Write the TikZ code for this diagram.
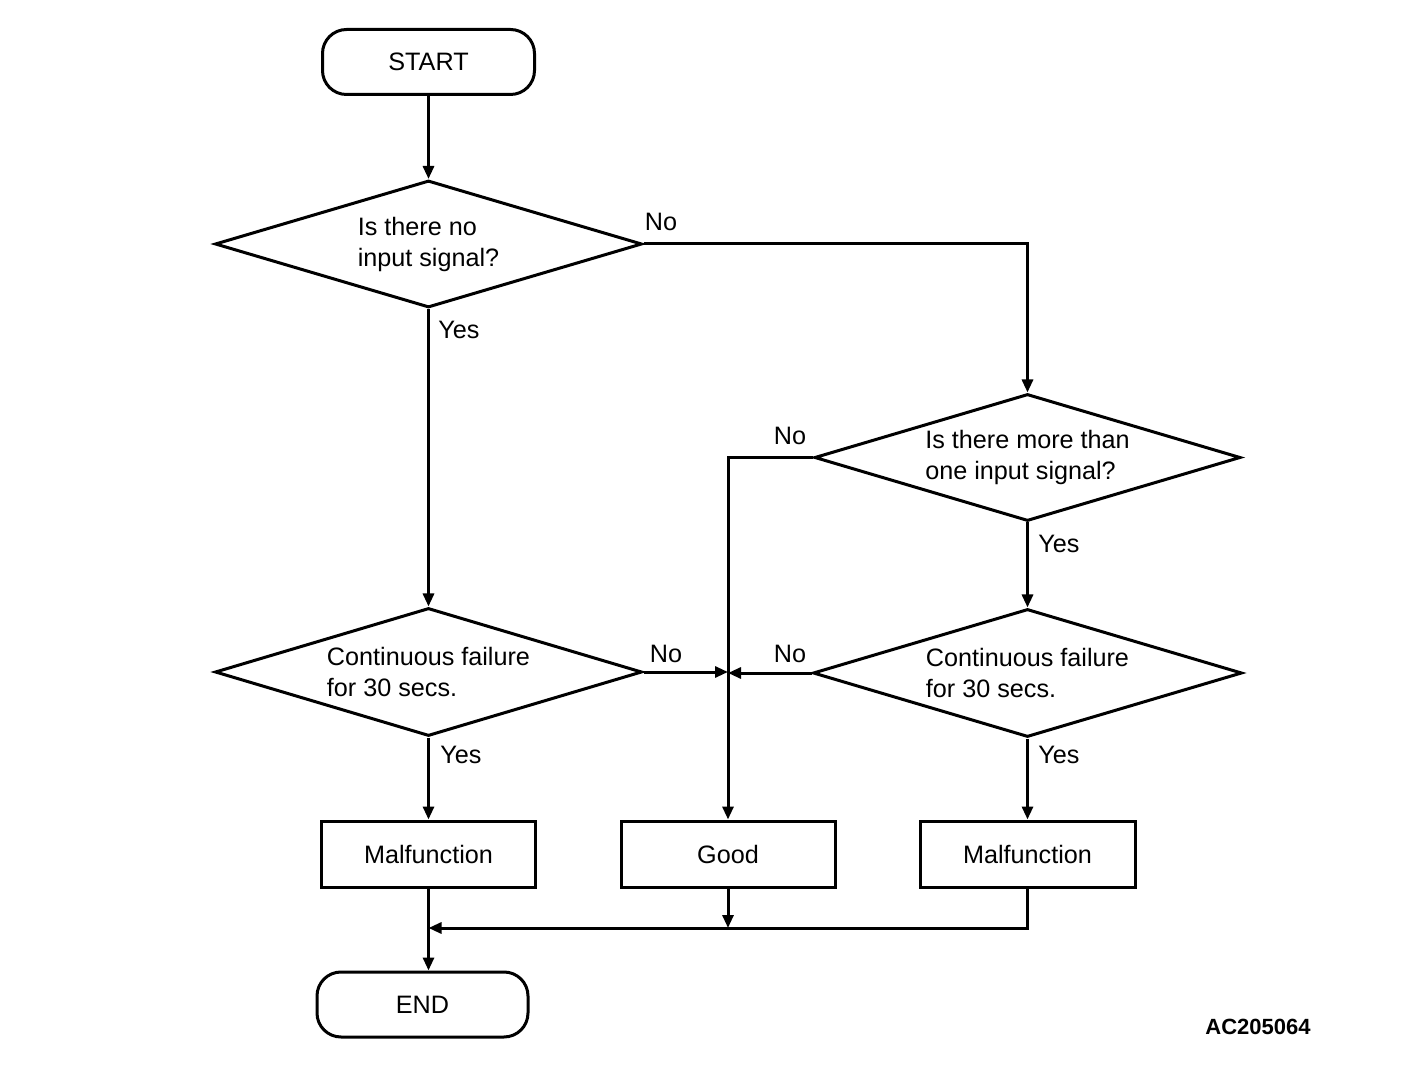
\documentclass[tikz,border=0pt]{standalone}
\usepackage{fontspec}
\setmainfont{Liberation Sans}
\usetikzlibrary{shapes.geometric,arrows.meta,calc}
\begin{document}
\begin{tikzpicture}[x=0.5pt,y=-0.5pt,
  every node/.style={font=\fontsize{12.6}{15.5}\selectfont},
  line width=1.5pt,
  term/.style={draw,rounded corners=12pt,minimum width=106pt,minimum height=32.5pt,inner sep=0pt},
  dec/.style={draw,diamond,aspect=3.4,inner sep=0pt,align=left,minimum width=213.5pt,minimum height=63.5pt},
  proc/.style={draw,minimum width=107pt,minimum height=33pt,inner sep=0pt},
  lbl/.style={inner sep=0pt},
  arr/.style={-{Triangle[length=6.5pt,width=5.5pt]}}
]
\useasboundingbox (0,0) rectangle (1408,1090);
\node[term] (start) at (428.5,62) {START};
\node[dec] (d1) at (428.5,244) {Is there no\\input signal?};
\node[dec,minimum width=213pt] (d2) at (1027.5,457.5) {Is there more than\\one input signal?};
\node[dec,minimum height=64pt] (d3) at (428.5,672) {Continuous failure\\for 30 secs.};
\node[dec,minimum width=214.5pt,minimum height=64pt] (d4) at (1027.5,673) {Continuous failure\\for 30 secs.};
\node[proc] (m1) at (428.5,854) {Malfunction};
\node[proc] (good) at (728,854) {Good};
\node[proc,minimum width=107.5pt] (m2) at (1027.5,854) {Malfunction};
\node[term,minimum width=105.5pt] (end) at (422.5,1004.5) {END};
\coordinate (jg) at (728,928);
\coordinate (jm) at (428.5,928);

\draw[arr] (start.south) -- (d1.north);
\draw[arr] (d1.east) -- (d1.east -| d2.north) -- (d2.north);
\draw[arr] (d1.south) -- (d3.north);
\draw[arr] (d2.west) -- (d2.west -| good.north) -- (good.north);
\draw[arr] (d2.south) -- (d4.north);
\draw[arr] (d3.east) -- (d3.east -| good.north);
\draw[arr] (d4.west) -- (d4.west -| good.north);
\draw[arr] (d3.south) -- (m1.north);
\draw[arr] (d4.south) -- (m2.north);
\draw[arr] (m1.south) -- (m1.south |- end.north);
\draw[arr] (good.south) -- (jg);
\draw[arr] (m2.south) -- (m2.south |- jg) -- (jm);

\node[lbl] (l1) at (661,222) {No};
\node[lbl] (l2) at (459,330) {Yes};
\node[lbl] (l3) at (790,436) {No};
\node[lbl] (l4) at (1059,544) {Yes};
\node[lbl] (l5) at (666,654) {No};
\node[lbl] (l6) at (790,654) {No};
\node[lbl] (l7) at (461,755) {Yes};
\node[lbl] (l8) at (1059,755) {Yes};
\node[lbl,font=\fontsize{11}{13}\selectfont\bfseries] (code) at (1258,1027) {AC205064};
\end{tikzpicture}
\end{document}
